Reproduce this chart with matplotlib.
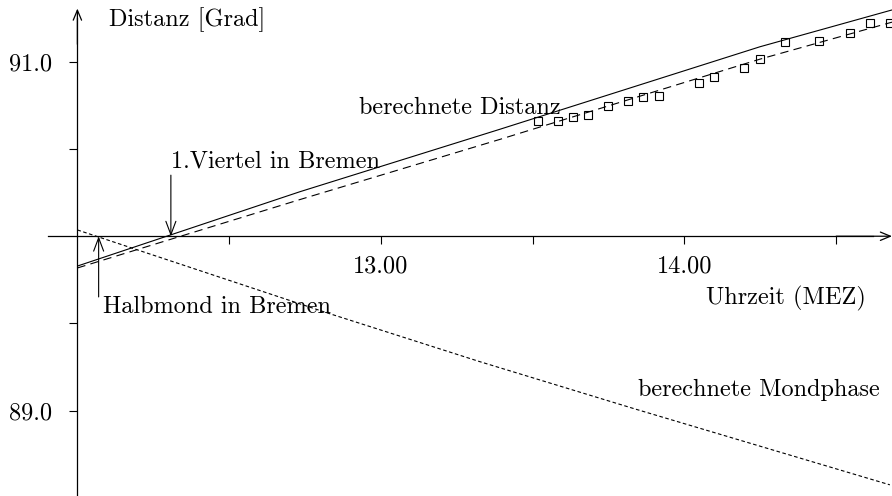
import matplotlib
matplotlib.use("Agg")
import matplotlib.pyplot as plt

plt.rcParams['font.family'] = ['cmr10', 'DejaVu Serif']
plt.rcParams['lines.scale_dashes'] = False
plt.rcParams['axes.unicode_minus'] = False

# ---- data ----
dist_calc_t = [12.0, 12.733, 13.392, 14.249, 14.684]
dist_calc_v = [89.829, 90.255, 90.613, 91.086, 91.297]

dist_fit_t = [12.0, 12.733, 13.392, 14.249, 14.684]
dist_fit_v = [89.818, 90.210, 90.555, 91.015, 91.227]

phase_t = [12.0, 12.824, 13.326, 13.837, 14.677]
phase_v = [90.036, 89.560, 89.281, 89.010, 88.575]

meas_t = [13.518, 13.584, 13.633, 13.682, 13.749, 13.815, 13.865, 13.916,
          14.048, 14.097, 14.196, 14.248, 14.330, 14.445, 14.546, 14.613, 14.677]
meas_v = [90.660, 90.660, 90.683, 90.696, 90.744, 90.775, 90.797, 90.803,
          90.879, 90.914, 90.962, 91.014, 91.113, 91.120, 91.163, 91.224, 91.220]

xticks = [12.5, 13.0, 13.5, 14.0, 14.5]
xticklabels = ['', '13.00', '', '14.00', '']
yticks = [89.0, 89.5, 90.5, 91.0]
yticklabels = ['89.0', '', '', '91.0']

viertel_t = 12.308
halbmond_t = 12.070

fs = 17.5

fig = plt.figure(figsize=(8.92, 4.96), dpi=100)
ax = fig.add_axes([0, 0, 1, 1])
ax.set_xlim(11.745, 14.684)
ax.set_ylim(88.511, 91.354)

for s in ['top', 'right']:
    ax.spines[s].set_visible(False)
ax.spines['left'].set_position(('data', 12.0))
ax.spines['bottom'].set_position(('data', 90.0))
ax.spines['left'].set_bounds(88.511, 91.25)
ax.spines['bottom'].set_bounds(11.903, 14.62)
ax.spines['left'].set_linewidth(0.9)
ax.spines['bottom'].set_linewidth(0.9)

ax.set_xticks(xticks)
ax.set_xticklabels(xticklabels)
ax.set_yticks(yticks)
ax.set_yticklabels(yticklabels)
ax.tick_params(axis='x', direction='out', length=6, width=0.8, pad=8, labelsize=fs)
ax.tick_params(axis='y', direction='out', length=6, width=0.8, pad=12, labelsize=fs)

# axis arrow heads
arrow_kw = dict(arrowstyle='->,head_length=0.6,head_width=0.25', lw=0.9,
                color='black', mutation_scale=12, shrinkA=0, shrinkB=0)
ax.annotate('', xy=(14.684, 90.0), xytext=(14.5, 90.0), arrowprops=arrow_kw)
ax.annotate('', xy=(12.0, 91.305), xytext=(12.0, 91.1), arrowprops=arrow_kw)

# curves
ax.plot(dist_calc_t, dist_calc_v, color='black', lw=0.8, solid_capstyle='butt')
ax.plot(dist_fit_t, dist_fit_v, color='black', lw=0.8, dashes=(6, 3.8))
ax.plot(phase_t, phase_v, color='black', lw=0.8, dashes=(2.6, 1.8))
ax.plot(meas_t, meas_v, linestyle='none', marker='s', ms=6, mfc='none',
        mec='black', mew=0.8)

# annotation arrows
ak = dict(arrowstyle='->,head_length=0.8,head_width=0.3', lw=0.8,
          color='black', mutation_scale=12, shrinkA=0, shrinkB=0)
ax.annotate('', xy=(viertel_t, 90.0), xytext=(viertel_t, 90.35), arrowprops=ak)
ax.annotate('', xy=(halbmond_t, 90.0), xytext=(halbmond_t, 89.652), arrowprops=ak)

# texts
ax.text(12.105, 91.24, 'Distanz [Grad]', fontsize=fs, ha='left', va='center')
ax.text(12.928, 90.734, 'berechnete Distanz', fontsize=fs, ha='left', va='center')
ax.text(12.308, 90.426, '1.Viertel in Bremen', fontsize=fs, ha='left', va='center')
ax.text(12.083, 89.595, 'Halbmond in Bremen', fontsize=fs, ha='left', va='center')
ax.text(14.070, 89.645, 'Uhrzeit (MEZ)', fontsize=fs, ha='left', va='center')
ax.text(13.846, 89.117, 'berechnete Mondphase', fontsize=fs, ha='left', va='center')

fig.savefig('out.png', dpi=100)
